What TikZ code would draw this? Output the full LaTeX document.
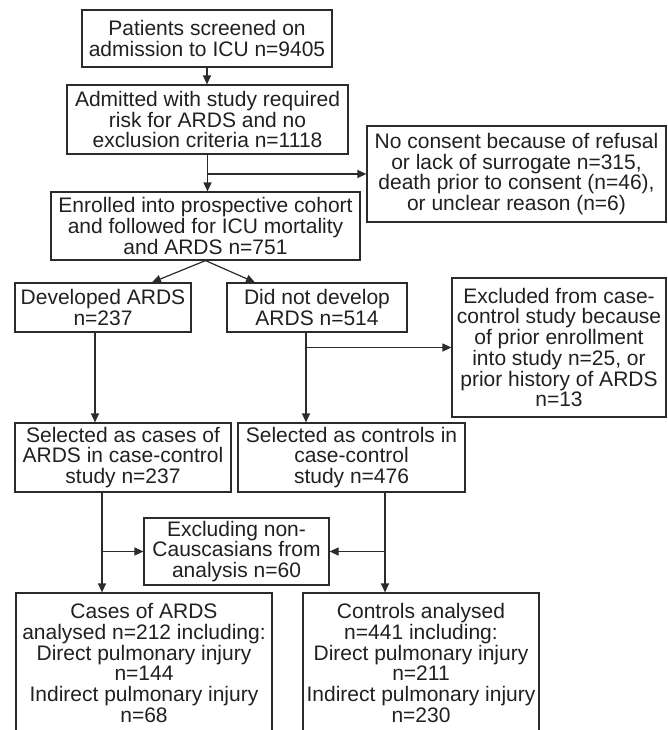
\documentclass[tikz,border=0pt]{standalone}
\usepackage{fontspec}
\setmainfont{Liberation Sans}
\usepackage{tikz}
\usetikzlibrary{arrows.meta,positioning}
\definecolor{linecol}{HTML}{2B2B2B}
\definecolor{textcol}{HTML}{231F20}

\begin{document}
\begin{tikzpicture}[x=1pt, y=-1pt,
  box/.style={draw=linecol, line width=1.2pt, inner sep=0pt, align=center,
    text=textcol, font=\fontsize{21}{20.7}\selectfont},
  arr/.style={draw=linecol, line width=1.2pt, -{Triangle[length=9pt,width=8pt]}}
]
\clip (0,0) rectangle (667,730);

% -------- Cohorte (arriba) --------
\node[box, minimum width=250, minimum height=57] (screened) at (207,38.5)
  {Patients screened on\\admission to ICU n=9405};
\node[box, minimum width=281, minimum height=69] (admitted) at (207.5,119.5)
  {Admitted with study required\\risk for ARDS and no\\exclusion criteria n=1118};
\node[box, minimum width=299, minimum height=96] (noconsent) at (516.5,174)
  {No consent because of refusal\\or lack of surrogate n=315,\\death prior to consent (n=46),\\or unclear reason (n=6)};
\node[box, minimum width=309, minimum height=68] (enrolled) at (205.5,226)
  {Enrolled into prospective cohort\\and followed for ICU mortality\\and ARDS n=751};

% Flechas de la cohorte
\draw[arr] (screened.south) -- (screened.south |- admitted.north);
\draw[arr] (admitted.south) -- (admitted.south |- enrolled.north);
\draw[arr] (admitted.south |- noconsent.west) -- (noconsent.west);

% -------- ARDS / sin ARDS --------
\node[box, minimum width=176, minimum height=49] (ards) at (103,307.5)
  {Developed ARDS\\n=237};
\node[box, minimum width=180, minimum height=49] (noards) at (317,307.5)
  {Did not develop\\ARDS n=514};
\node[box, minimum width=214, minimum height=139] (excluded) at (559,347.5)
  {Excluded from case-\\control study because\\of prior enrollment\\into study n=25, or\\prior history of ARDS\\n=13};

\draw[arr] (enrolled.south) -- ([xshift=49pt]ards.north);
\draw[arr] (enrolled.south) -- ([xshift=-62pt]noards.north);

% -------- Caso-control --------
\node[box, minimum width=216, minimum height=69] (cases) at (123,457.5)
  {Selected as cases of\\ARDS in case-control\\study n=237};
\node[box, minimum width=227, minimum height=69] (controls) at (351.5,457.5)
  {Selected as controls in\\case-control\\study n=476};

\coordinate (ardsout) at ([xshift=-8pt]ards.south);
\coordinate (noardsout) at ([xshift=-11pt]noards.south);
\draw[arr] (ardsout) -- (ardsout |- cases.north);
\draw[arr] (noardsout) -- (noardsout |- controls.north);
\draw[arr] (noardsout |- excluded.west) -- (excluded.west);

% -------- Analisis (abajo) --------
\node[box, minimum width=185, minimum height=67] (noncauc) at (236.5,551.5)
  {Excluding non-\\Causcasians from\\analysis n=60};
\node[box, minimum width=256, minimum height=140] (casesan) at (144,663)
  {Cases of ARDS\\analysed n=212 including:\\Direct pulmonary injury\\n=144\\Indirect pulmonary injury\\n=68};
\node[box, minimum width=236, minimum height=140] (controlsan) at (421,663)
  {Controls analysed\\n=441 including:\\Direct pulmonary injury\\n=211\\Indirect pulmonary injury\\n=230};

\coordinate (casesout) at ([xshift=-21pt]cases.south);
\coordinate (controlsout) at ([xshift=33.5pt]controls.south);
\draw[arr] (casesout) -- (casesout |- casesan.north);
\draw[arr] (controlsout) -- (controlsout |- controlsan.north);
\draw[arr] (casesout |- noncauc.west) -- (noncauc.west);
\draw[arr] (controlsout |- noncauc.east) -- (noncauc.east);

\end{tikzpicture}
\end{document}
